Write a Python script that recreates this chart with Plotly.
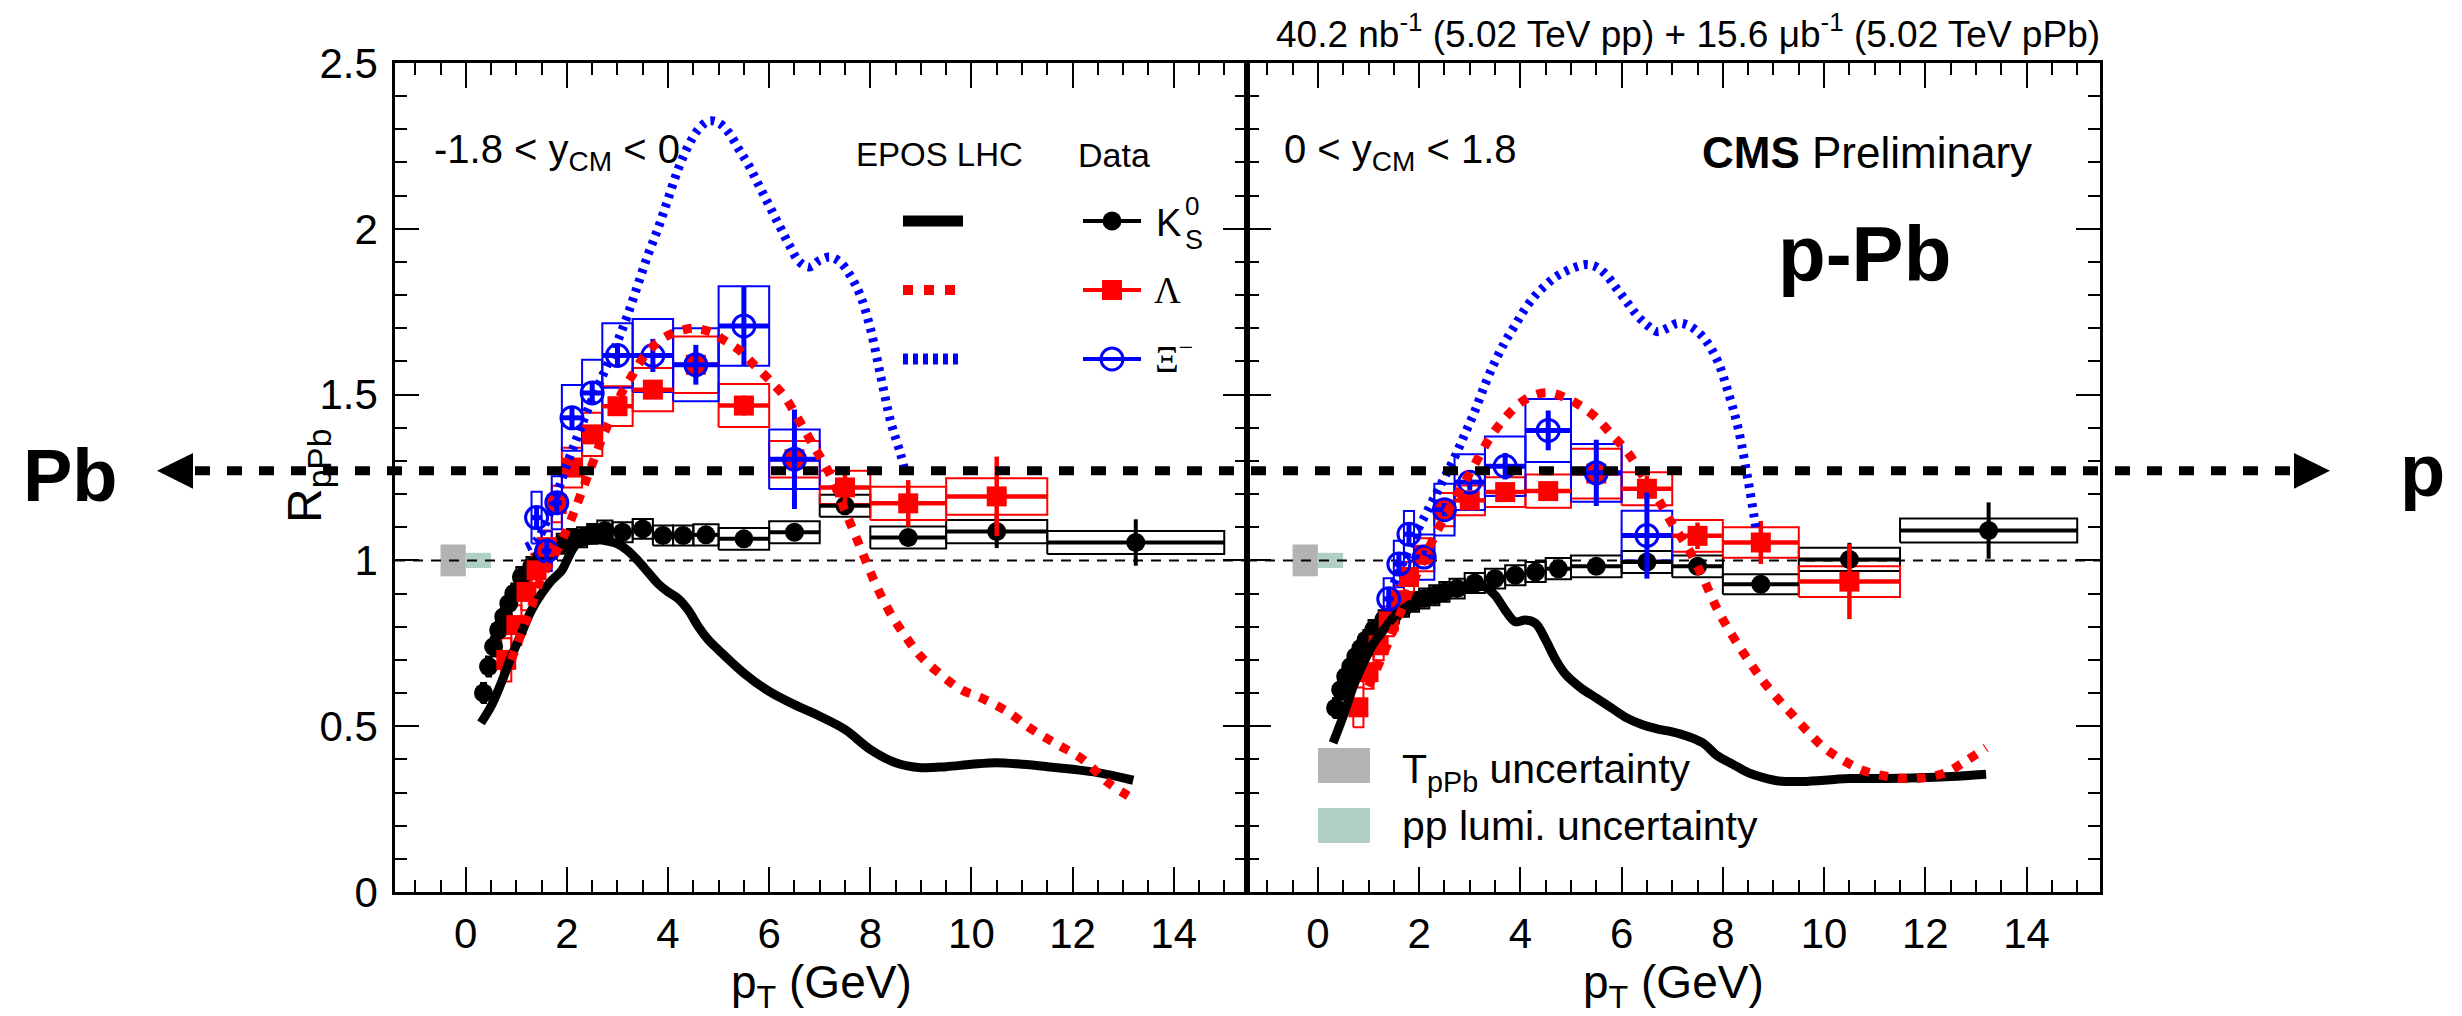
import plotly.graph_objects as go

# ---------------------------------------------------------------
# R_pPb of strange hadrons, backward (-1.8<y_CM<0) and forward (0<y_CM<1.8)
# ---------------------------------------------------------------

# K0S
k0s_pt = [0.35, 0.45, 0.55, 0.65, 0.75, 0.85, 0.95, 1.1, 1.3, 1.5, 1.7, 1.9, 2.1, 2.3,
          2.5, 2.75, 3.1, 3.5, 3.9, 4.3, 4.75, 5.5, 6.5, 7.5, 8.75, 10.5, 13.25]
k0s_hw = [0.05, 0.05, 0.05, 0.05, 0.05, 0.05, 0.05, 0.1, 0.1, 0.1, 0.1, 0.1, 0.1, 0.1,
          0.1, 0.15, 0.2, 0.2, 0.2, 0.2, 0.25, 0.5, 0.5, 0.5, 0.75, 1.0, 1.75]
k0s_bwd = [0.60, 0.68, 0.74, 0.79, 0.83, 0.87, 0.90, 0.95, 0.98, 1.01, 1.035, 1.05, 1.065, 1.07,
           1.08, 1.09, 1.085, 1.095, 1.075, 1.075, 1.077, 1.065, 1.085, 1.165, 1.069, 1.087, 1.054]
k0s_bwd_stat = [0.005, 0.005, 0.005, 0.005, 0.005, 0.005, 0.005, 0.005, 0.005, 0.005, 0.005, 0.005,
                0.005, 0.005, 0.005, 0.005, 0.005, 0.005, 0.005, 0.006, 0.007, 0.008, 0.01, 0.015,
                0.02, 0.05, 0.07]
k0s_bwd_sys = [0.03, 0.03, 0.03, 0.03, 0.03, 0.03, 0.03, 0.03, 0.03, 0.03, 0.03, 0.03, 0.03, 0.03,
               0.03, 0.03, 0.03, 0.03, 0.03, 0.03, 0.032, 0.033, 0.033, 0.033, 0.033, 0.035, 0.035]
k0s_fwd = [0.555, 0.61, 0.65, 0.68, 0.71, 0.735, 0.76, 0.79, 0.82, 0.84, 0.86, 0.875, 0.885, 0.895,
           0.905, 0.915, 0.932, 0.945, 0.955, 0.965, 0.975, 0.982, 0.995, 0.982, 0.928, 1.003, 1.09]
k0s_fwd_stat = [0.005, 0.005, 0.005, 0.005, 0.005, 0.005, 0.005, 0.005, 0.005, 0.005, 0.005, 0.005,
                0.005, 0.005, 0.005, 0.005, 0.005, 0.005, 0.005, 0.006, 0.007, 0.008, 0.01, 0.015,
                0.02, 0.05, 0.085]
k0s_fwd_sys = [0.03, 0.03, 0.03, 0.03, 0.03, 0.03, 0.03, 0.03, 0.03, 0.03, 0.03, 0.03, 0.03, 0.03,
               0.03, 0.03, 0.03, 0.03, 0.03, 0.03, 0.032, 0.033, 0.033, 0.033, 0.03, 0.035, 0.036]

# Lambda
lam_pt = [0.8, 1.0, 1.2, 1.4, 1.6, 1.8, 2.1, 2.5, 3.0, 3.7, 4.55, 5.5, 6.5, 7.5, 8.75, 10.5]
lam_hw = [0.1, 0.1, 0.1, 0.1, 0.1, 0.1, 0.2, 0.2, 0.3, 0.4, 0.45, 0.5, 0.5, 0.5, 0.75, 1.0]
lam_bwd = [0.70, 0.805, 0.905, 0.97, 1.04, 1.17, 1.28, 1.38, 1.465, 1.515, 1.59, 1.467, 1.305,
           1.22, 1.172, 1.193]
lam_bwd_stat = [0.02, 0.015, 0.015, 0.015, 0.015, 0.015, 0.015, 0.015, 0.02, 0.025, 0.04, 0.03,
                0.05, 0.05, 0.07, 0.12]
lam_bwd_sys = [0.065, 0.06, 0.055, 0.05, 0.05, 0.055, 0.06, 0.065, 0.06, 0.065, 0.085, 0.065,
               0.055, 0.05, 0.05, 0.055]
lam_fwd = [0.557, 0.663, 0.744, 0.816, 0.88, 0.95, 1.017, 1.153, 1.181, 1.206, 1.209, 1.262,
           1.216, 1.074, 1.054, 0.936]
lam_fwd_stat = [0.02, 0.015, 0.015, 0.015, 0.015, 0.015, 0.015, 0.015, 0.015, 0.02, 0.025, 0.03,
                0.04, 0.04, 0.065, 0.113]
lam_fwd_sys = [0.06, 0.05, 0.045, 0.045, 0.045, 0.045, 0.05, 0.05, 0.045, 0.045, 0.05, 0.075,
               0.05, 0.048, 0.046, 0.046]

# Xi-
xi_pt = [1.4, 1.6, 1.8, 2.1, 2.5, 3.0, 3.7, 4.55, 5.5, 6.5]
xi_hw = [0.1, 0.1, 0.1, 0.2, 0.2, 0.3, 0.4, 0.45, 0.5, 0.5]
xi_bwd = [1.129, 1.028, 1.174, 1.43, 1.505, 1.618, 1.618, 1.59, 1.707, 1.305]
xi_bwd_stat = [0.03, 0.03, 0.03, 0.03, 0.03, 0.03, 0.05, 0.06, 0.12, 0.15]
xi_bwd_sys = [0.078, 0.06, 0.08, 0.099, 0.10, 0.097, 0.11, 0.11, 0.12, 0.09]
xi_fwd = [0.884, 0.989, 1.079, 1.01, 1.153, 1.236, 1.284, 1.392, 1.264, 1.075]
xi_fwd_stat = [0.03, 0.03, 0.03, 0.02, 0.02, 0.025, 0.04, 0.06, 0.1, 0.13]
xi_fwd_sys = [0.062, 0.07, 0.07, 0.068, 0.078, 0.084, 0.09, 0.095, 0.087, 0.075]

# EPOS LHC predictions
epos_k0s_bwd_pt = [0.3, 0.5, 0.7, 0.9, 1.1, 1.3, 1.5, 1.7, 1.9, 2.0, 2.1, 2.2, 2.4, 2.6, 2.8, 3.0,
                   3.2, 3.4, 3.6, 3.8, 4.0, 4.2, 4.4, 4.6, 4.8, 5.0, 5.5, 6.0, 6.5, 7.0, 7.5, 8.0,
                   8.5, 9.0, 9.5, 10.0, 10.5, 11.0, 11.5, 12.0, 12.5, 13.2]
epos_k0s_bwd = [0.51, 0.56, 0.63, 0.71, 0.78, 0.85, 0.90, 0.94, 0.97, 1.0, 1.03, 1.05, 1.06, 1.062,
                1.058, 1.05, 1.03, 1.0, 0.965, 0.93, 0.905, 0.885, 0.85, 0.80, 0.76, 0.73, 0.66,
                0.605, 0.565, 0.53, 0.49, 0.43, 0.39, 0.375, 0.378, 0.385, 0.39, 0.385, 0.378,
                0.37, 0.36, 0.337]
epos_lam_bwd_pt = [0.9, 1.1, 1.3, 1.5, 1.7, 1.9, 2.1, 2.3, 2.5, 2.7, 2.9, 3.1, 3.3, 3.5, 3.7, 3.9,
                   4.1, 4.3, 4.5, 4.7, 4.9, 5.1, 5.4, 5.7, 6.0, 6.3, 6.6, 6.9, 7.2, 7.5, 7.8, 8.1,
                   8.4, 8.7, 9.0, 9.4, 9.8, 10.2, 10.7, 11.2, 11.7, 12.2, 12.7, 13.1]
epos_lam_bwd = [0.70, 0.78, 0.86, 0.95, 1.00, 1.06, 1.13, 1.21, 1.29, 1.37, 1.44, 1.51, 1.56, 1.61,
                1.645, 1.67, 1.685, 1.695, 1.70, 1.695, 1.685, 1.665, 1.635, 1.59, 1.545, 1.495,
                1.42, 1.34, 1.26, 1.15, 1.04, 0.93, 0.84, 0.77, 0.71, 0.655, 0.61, 0.585, 0.545,
                0.49, 0.445, 0.40, 0.33, 0.29]
epos_xi_bwd_pt = [1.2, 1.4, 1.6, 1.8, 2.0, 2.2, 2.4, 2.6, 2.8, 3.0, 3.2, 3.4, 3.6, 3.8, 4.0, 4.2,
                  4.4, 4.6, 4.8, 5.0, 5.2, 5.4, 5.6, 5.8, 6.0, 6.2, 6.4, 6.6, 6.8, 7.0, 7.2, 7.4,
                  7.6, 7.8, 8.0, 8.2, 8.4, 8.6, 8.7]
epos_xi_bwd = [1.04, 1.06, 1.12, 1.20, 1.29, 1.37, 1.45, 1.52, 1.59, 1.66, 1.74, 1.83, 1.92, 2.00,
               2.09, 2.18, 2.25, 2.30, 2.325, 2.32, 2.29, 2.24, 2.19, 2.13, 2.07, 2.01, 1.95, 1.90,
               1.885, 1.905, 1.915, 1.90, 1.86, 1.80, 1.70, 1.56, 1.42, 1.32, 1.26]
epos_k0s_fwd_pt = [0.3, 0.5, 0.7, 0.9, 1.1, 1.3, 1.5, 1.7, 1.9, 2.1, 2.3, 2.5, 2.7, 2.9, 3.1, 3.3,
                   3.5, 3.7, 3.9, 4.1, 4.3, 4.5, 4.7, 4.9, 5.2, 5.5, 5.8, 6.1, 6.4, 6.7, 7.0, 7.3,
                   7.6, 7.9, 8.2, 8.5, 8.8, 9.1, 9.5, 10.0, 10.5, 11.0, 11.5, 12.0, 12.5, 13.2]
epos_k0s_fwd = [0.45, 0.53, 0.62, 0.69, 0.75, 0.79, 0.83, 0.855, 0.875, 0.89, 0.898, 0.904, 0.908,
                0.912, 0.918, 0.92, 0.895, 0.85, 0.815, 0.82, 0.81, 0.76, 0.70, 0.655, 0.615,
                0.585, 0.555, 0.525, 0.505, 0.492, 0.483, 0.47, 0.45, 0.41, 0.385, 0.36, 0.345,
                0.335, 0.333, 0.337, 0.342, 0.342, 0.343, 0.345, 0.348, 0.355]
epos_lam_fwd_pt = [1.0, 1.3, 1.6, 1.9, 2.2, 2.5, 2.8, 3.1, 3.4, 3.7, 4.0, 4.3, 4.6, 4.9, 5.2, 5.5,
                   5.8, 6.1, 6.4, 6.7, 7.0, 7.3, 7.6, 7.9, 8.2, 8.5, 8.8, 9.1, 9.4, 9.7, 10.0, 10.4,
                   10.8, 11.2, 11.6, 12.0, 12.4, 12.8, 13.2]
epos_lam_fwd = [0.62, 0.72, 0.83, 0.94, 1.04, 1.13, 1.21, 1.29, 1.37, 1.43, 1.475, 1.50, 1.505,
                1.49, 1.465, 1.43, 1.38, 1.33, 1.26, 1.19, 1.11, 1.04, 0.95, 0.85, 0.77, 0.70,
                0.635, 0.58, 0.53, 0.48, 0.435, 0.395, 0.365, 0.35, 0.342, 0.345, 0.36, 0.395, 0.435]
epos_xi_fwd_pt = [1.5, 1.7, 1.9, 2.1, 2.3, 2.5, 2.7, 2.9, 3.1, 3.3, 3.5, 3.7, 3.9, 4.1, 4.3, 4.5,
                  4.7, 4.9, 5.1, 5.3, 5.5, 5.7, 5.9, 6.1, 6.3, 6.5, 6.7, 6.9, 7.1, 7.3, 7.5, 7.7,
                  7.9, 8.1, 8.3, 8.5, 8.65]
epos_xi_fwd = [0.93, 1.0, 1.07, 1.13, 1.19, 1.25, 1.31, 1.38, 1.45, 1.53, 1.60, 1.66, 1.71, 1.76,
               1.80, 1.83, 1.855, 1.872, 1.885, 1.892, 1.885, 1.86, 1.82, 1.78, 1.74, 1.71, 1.69,
               1.70, 1.715, 1.71, 1.69, 1.655, 1.60, 1.51, 1.40, 1.24, 1.10]

# global normalisation uncertainties (relative, around unity)
t_ppb_unc = 0.048
pp_lumi_unc = 0.023

# ---------------------------------------------------------------
# geometry and styles
# ---------------------------------------------------------------
W, H = 2462, 1016
PANEL_L, PANEL_M, PANEL_R = 395, 1247, 2100
PANEL_T, PANEL_B = 63, 892
X_RANGE = [-1.4, 15.45]
Y_RANGE = [0.0, 2.5]
ARROW_LEVEL = 1.27

FONT = "Liberation Sans, Arial, Helvetica, sans-serif"
SERIF = "Liberation Serif, Times New Roman, serif"
BLACK, RED, BLUE = "#000000", "#ff0000", "#0000ff"


def px_x(px):
    return px / W


def px_y(py):
    return 1 - py / H


def left_x(px):
    """pixel column -> pT on the left panel"""
    return X_RANGE[0] + (px - PANEL_L) * (X_RANGE[1] - X_RANGE[0]) / (PANEL_M - PANEL_L)


def val_y(py):
    """pixel row -> R_pPb"""
    return Y_RANGE[1] - (py - PANEL_T) * (Y_RANGE[1] - Y_RANGE[0]) / (PANEL_B - PANEL_T)


def sys_boxes(pt, hw, val, sys):
    bx, by = [], []
    for x, h, y, s in zip(pt, hw, val, sys):
        bx += [x - h, x + h, x + h, x - h, x - h, None]
        by += [y - s, y - s, y + s, y + s, y - s, None]
    return bx, by


fig = go.Figure()

species = [
    dict(pt=k0s_pt, hw=k0s_hw, color=BLACK, symbol="circle", size=19, lw=0, ew=4,
         side={"bwd": (k0s_bwd, k0s_bwd_stat, k0s_bwd_sys), "fwd": (k0s_fwd, k0s_fwd_stat, k0s_fwd_sys)}),
    dict(pt=lam_pt, hw=lam_hw, color=RED, symbol="square", size=20, lw=0, ew=4.5,
         side={"bwd": (lam_bwd, lam_bwd_stat, lam_bwd_sys), "fwd": (lam_fwd, lam_fwd_stat, lam_fwd_sys)}),
    dict(pt=xi_pt, hw=xi_hw, color=BLUE, symbol="circle-open", size=22, lw=3, ew=5,
         side={"bwd": (xi_bwd, xi_bwd_stat, xi_bwd_sys), "fwd": (xi_fwd, xi_fwd_stat, xi_fwd_sys)}),
]

panels = [("x", "y", "bwd"), ("x2", "y2", "fwd")]

epos = {
    "bwd": [(epos_k0s_bwd_pt, epos_k0s_bwd, BLACK, "solid"),
            (epos_lam_bwd_pt, epos_lam_bwd, RED, "9px,10px"),
            (epos_xi_bwd_pt, epos_xi_bwd, BLUE, "4px,6px")],
    "fwd": [(epos_k0s_fwd_pt, epos_k0s_fwd, BLACK, "solid"),
            (epos_lam_fwd_pt, epos_lam_fwd, RED, "9px,10px"),
            (epos_xi_fwd_pt, epos_xi_fwd, BLUE, "4px,6px")],
}

for xa, ya, side in panels:
    # systematic boxes
    for sp in species:
        val, stat, sys = sp["side"][side]
        bx, by = sys_boxes(sp["pt"], sp["hw"], val, sys)
        fig.add_trace(go.Scatter(x=bx, y=by, xaxis=xa, yaxis=ya, mode="lines",
                                 line=dict(color=sp["color"], width=2),
                                 hoverinfo="skip", showlegend=False))
    # data points with statistical errors and bin widths
    for sp in species:
        val, stat, sys = sp["side"][side]
        fig.add_trace(go.Scatter(
            x=sp["pt"], y=val, xaxis=xa, yaxis=ya, mode="markers",
            marker=dict(symbol=sp["symbol"], size=sp["size"], color=sp["color"],
                        line=dict(color=sp["color"], width=sp["lw"])),
            error_y=dict(type="data", array=stat, color=sp["color"], thickness=sp["ew"], width=0),
            error_x=dict(type="data", array=sp["hw"], color=sp["color"], thickness=sp["ew"], width=0),
            showlegend=False))
    # model curves
    for cx, cy, col, dash in epos[side]:
        fig.add_trace(go.Scatter(x=cx, y=cy, xaxis=xa, yaxis=ya, mode="lines",
                                 line=dict(color=col, width=9, dash=dash, shape="spline"),
                                 hoverinfo="skip", showlegend=False))

# ---------------------------------------------------------------
# in-frame legend (left panel)
# ---------------------------------------------------------------
rows = [221, 290, 359]
model_styles = [(BLACK, "solid", 11, 963), (RED, "10px,11px", 10, 958), (BLUE, "5px,5px", 11, 960)]
for py, (col, dash, w, x_end) in zip(rows, model_styles):
    fig.add_trace(go.Scatter(x=[left_x(903), left_x(x_end)], y=[val_y(py), val_y(py)],
                             xaxis="x", yaxis="y", mode="lines",
                             line=dict(color=col, width=w, dash=dash),
                             hoverinfo="skip", showlegend=False))
for py, sp in zip(rows, species):
    fig.add_trace(go.Scatter(x=[left_x(1083), left_x(1141)], y=[val_y(py), val_y(py)],
                             xaxis="x", yaxis="y", mode="lines",
                             line=dict(color=sp["color"], width=4),
                             hoverinfo="skip", showlegend=False))
    fig.add_trace(go.Scatter(x=[left_x(1112)], y=[val_y(py)], xaxis="x", yaxis="y", mode="markers",
                             marker=dict(symbol=sp["symbol"], size=sp["size"], color=sp["color"],
                                         line=dict(color=sp["color"], width=sp["lw"])),
                             hoverinfo="skip", showlegend=False))

# ---------------------------------------------------------------
# axes
# ---------------------------------------------------------------
axis_common = dict(showline=True, linecolor="black", linewidth=2.5, mirror="allticks",
                   ticks="inside", tickcolor="black", tickwidth=2, showgrid=False,
                   zeroline=False, automargin=False,
                   tickfont=dict(family=FONT, size=42, color="black"))
x_common = dict(axis_common, range=X_RANGE, tickmode="array", tickvals=[0, 2, 4, 6, 8, 10, 12, 14],
                ticklen=25, ticklabelstandoff=3,
                minor=dict(dtick=0.5, tick0=0, ticklen=12, tickwidth=2, tickcolor="black", ticks="inside"))
y_common = dict(axis_common, range=Y_RANGE, dtick=0.5, tick0=0, ticklen=24, ticklabelstandoff=6,
                minor=dict(dtick=0.1, tick0=0, ticklen=12, tickwidth=2, tickcolor="black", ticks="inside"))

fig.update_layout(
    width=W, height=H, margin=dict(l=0, r=0, t=0, b=0, pad=0, autoexpand=False),
    paper_bgcolor="white", plot_bgcolor="white", showlegend=False,
    xaxis=dict(x_common, domain=[px_x(PANEL_L), px_x(PANEL_M)], anchor="y"),
    yaxis=dict(y_common, domain=[px_y(PANEL_B), px_y(PANEL_T)], anchor="x"),
    xaxis2=dict(x_common, domain=[px_x(PANEL_M), px_x(PANEL_R)], anchor="y2"),
    yaxis2=dict(y_common, domain=[px_y(PANEL_B), px_y(PANEL_T)], anchor="x2",
                matches="y", showticklabels=False),
)

# ---------------------------------------------------------------
# shapes: normalisation boxes, unity lines, Pb <-> p arrow
# ---------------------------------------------------------------
shapes = []
for xa, ya in [("x", "y"), ("x2", "y2")]:
    shapes.append(dict(type="rect", xref=xa, yref=ya, x0=-0.5, x1=0.0,
                       y0=1 - t_ppb_unc, y1=1 + t_ppb_unc,
                       fillcolor="#b3b3b3", line=dict(width=0), layer="below"))
    shapes.append(dict(type="rect", xref=xa, yref=ya, x0=0.0, x1=0.5,
                       y0=1 - pp_lumi_unc, y1=1 + pp_lumi_unc,
                       fillcolor="#b0cfc6", line=dict(width=0), layer="below"))
    shapes.append(dict(type="line", xref=xa, yref=ya, x0=X_RANGE[0], x1=X_RANGE[1], y0=1, y1=1,
                       line=dict(color="black", width=2, dash="10px,8px"), layer="below"))

arrow_dom = (ARROW_LEVEL - Y_RANGE[0]) / (Y_RANGE[1] - Y_RANGE[0])
half_head = 0.054 / (Y_RANGE[1] - Y_RANGE[0])
shapes.append(dict(type="line", xref="paper", yref="y domain", x0=px_x(195), x1=px_x(2290),
                   y0=arrow_dom, y1=arrow_dom, line=dict(color="black", width=9, dash="15px,17px")))
shapes.append(dict(type="path", xref="paper", yref="y domain",
                   path=f"M {px_x(157)},{arrow_dom} L {px_x(193)},{arrow_dom + half_head} "
                        f"L {px_x(193)},{arrow_dom - half_head} Z",
                   fillcolor="black", line=dict(width=0)))
shapes.append(dict(type="path", xref="paper", yref="y domain",
                   path=f"M {px_x(2330)},{arrow_dom} L {px_x(2294)},{arrow_dom + half_head} "
                        f"L {px_x(2294)},{arrow_dom - half_head} Z",
                   fillcolor="black", line=dict(width=0)))

# legend swatches for the normalisation uncertainties (right panel)
shapes.append(dict(type="rect", xref="paper", yref="paper", x0=px_x(1318), x1=px_x(1370),
                   y0=px_y(783), y1=px_y(748), fillcolor="#b3b3b3", line=dict(width=0)))
shapes.append(dict(type="rect", xref="paper", yref="paper", x0=px_x(1318), x1=px_x(1370),
                   y0=px_y(843), y1=px_y(808), fillcolor="#b0cfc6", line=dict(width=0)))
fig.update_layout(shapes=shapes)


# ---------------------------------------------------------------
# text
# ---------------------------------------------------------------
def add_text(text, x, y, size, xanchor="left", yanchor="middle", family=FONT, angle=0):
    fig.add_annotation(text=text, x=px_x(x), y=px_y(y), xref="paper", yref="paper",
                       xanchor=xanchor, yanchor=yanchor, showarrow=False, textangle=angle,
                       borderpad=0, font=dict(family=family, size=size, color="black"))


add_text("40.2 nb<sup>-1</sup> (5.02 TeV pp) + 15.6 \u03bcb<sup>-1</sup> (5.02 TeV pPb)",
         2101, 32, 37, xanchor="right")
add_text("-1.8 < y<sub>CM</sub> < 0", 433, 152, 40)
add_text("0 < y<sub>CM</sub> < 1.8", 1283, 152, 40)
add_text("EPOS LHC", 939, 155, 33, xanchor="center")
add_text("Data", 1114, 155, 34, xanchor="center")
add_text("K", 1155, 223, 38)
add_text("0", 1184, 206, 26)
add_text("S", 1184, 240, 27)
add_text("\u039b", 1153, 291, 37, family=SERIF)
add_text("\u039e<sup>\u2212</sup>", 1154, 356, 37, family=SERIF)
add_text("<b>CMS</b> Preliminary", 1701, 153, 44)
add_text("<b>p-Pb</b>", 1864, 254, 78, xanchor="center")
add_text("T<sub>pPb</sub> uncertainty", 1401, 772, 41)
add_text("pp lumi. uncertainty", 1401, 826, 41)
add_text("<b>Pb</b>", 70, 475, 74, xanchor="center")
add_text("<b>p</b>", 2422, 470, 74, xanchor="center")
add_text("p<sub>T</sub> (GeV)", (PANEL_L + PANEL_M) / 2, 1016, 46, xanchor="center", yanchor="bottom")
add_text("p<sub>T</sub> (GeV)", (PANEL_M + PANEL_R) / 2, 1016, 46, xanchor="center", yanchor="bottom")
add_text("R<sub>pPb</sub>", 308, 476, 48, xanchor="center", angle=-90)

fig.write_html("out.html")
